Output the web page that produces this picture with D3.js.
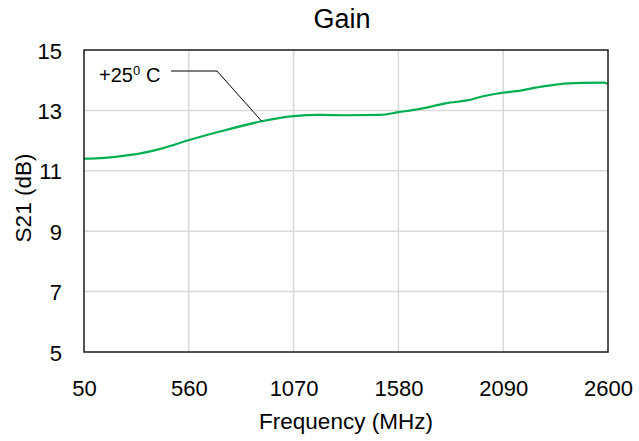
<!DOCTYPE html>
<html>
<head>
<meta charset="utf-8">
<script src="https://cdn.jsdelivr.net/npm/d3@7"></script>
<style>
    html, body { margin: 0; padding: 0; background: #fff; overflow: hidden; }
    svg { display: block; }
</style>
</head>
<body>
<svg id="chart"></svg>
<script>
// values
const freqMHz = [50, 150, 258, 356, 440, 558, 712, 915, 1004, 1069, 1199, 1329, 1491, 1580, 1686, 1815, 1913, 1993, 2091, 2156, 2253, 2366, 2480, 2577, 2600];
const gainDb = [11.40, 11.43, 11.51, 11.62, 11.76, 12.01, 12.30, 12.64, 12.75, 12.81, 12.85, 12.84, 12.85, 12.94, 13.05, 13.24, 13.33, 13.47, 13.59, 13.64, 13.76, 13.87, 13.91, 13.92, 13.88];
const xTicks = [50, 560, 1070, 1580, 2090, 2600];
const yTicks = [5, 7, 9, 11, 13, 15];
const seriesLabel = "+25";

const chartSettings = {
    width: 639,
    height: 441,
    margin: { top: 50, right: 31, bottom: 89, left: 84 },
    font: "Liberation Sans, Arial, sans-serif",
    lineColor: "#00b050",
    gridColor: "#d9d9d9",
};

const { width, height, margin, font } = chartSettings;
const innerWidth = width - margin.left - margin.right;
const innerHeight = height - margin.top - margin.bottom;

const svg = d3.select("#chart")
    .attr("width", width)
    .attr("height", height)
    .attr("font-family", font);

const x = d3.scaleLinear().domain([50, 2600]).range([0, innerWidth]);
const y = d3.scaleLinear().domain([5, 15]).range([innerHeight, 0]);

const g = svg.append("g")
    .attr("transform", `translate(${margin.left},${margin.top})`);

// gridlines
g.append("g")
    .selectAll("line")
    .data(xTicks.slice(1, -1))
    .join("line")
    .attr("x1", d => x(d)).attr("x2", d => x(d))
    .attr("y1", 0).attr("y2", innerHeight)
    .attr("stroke", chartSettings.gridColor)
    .attr("stroke-width", 1.5);

g.append("g")
    .selectAll("line")
    .data(yTicks.slice(1, -1))
    .join("line")
    .attr("x1", 0).attr("x2", innerWidth)
    .attr("y1", d => y(d)).attr("y2", d => y(d))
    .attr("stroke", chartSettings.gridColor)
    .attr("stroke-width", 1.5);

// axes: labels only, the frame is drawn separately
const xAxis = g.append("g")
    .attr("transform", `translate(0,${innerHeight})`)
    .call(d3.axisBottom(x).tickValues(xTicks).tickSize(0).tickFormat(d3.format("d")));
xAxis.select(".domain").remove();
xAxis.selectAll("text")
    .attr("y", 44)
    .attr("dy", null)
    .attr("text-anchor", "middle")
    .attr("font-family", font)
    .attr("font-size", 22)
    .attr("fill", "#000");

const yAxis = g.append("g")
    .call(d3.axisLeft(y).tickValues(yTicks).tickSize(0).tickFormat(d3.format("d")));
yAxis.select(".domain").remove();
yAxis.selectAll("text")
    .attr("x", -22)
    .attr("y", 8)
    .attr("dy", null)
    .attr("text-anchor", "end")
    .attr("font-family", font)
    .attr("font-size", 22)
    .attr("fill", "#000");

// data line
const line = d3.line()
    .x((d, i) => x(freqMHz[i]))
    .y(d => y(d))
    .curve(d3.curveMonotoneX);

g.append("path")
    .datum(gainDb)
    .attr("fill", "none")
    .attr("stroke", chartSettings.lineColor)
    .attr("stroke-width", 2.2)
    .attr("d", line);

// plot frame
g.append("rect")
    .attr("width", innerWidth)
    .attr("height", innerHeight)
    .attr("fill", "none")
    .attr("stroke", "#1a1a1a")
    .attr("stroke-width", 1.5);

// series annotation with leader line
const anchorF = 915;
const anchorY = y(gainDb[freqMHz.indexOf(anchorF)]);
g.append("polyline")
    .attr("points", `87,21 133,21 ${x(anchorF)},${anchorY}`)
    .attr("fill", "none")
    .attr("stroke", "#000")
    .attr("stroke-width", 1);

g.append("text")
    .attr("x", 15)
    .attr("y", 32)
    .attr("font-size", 20)
    .text(seriesLabel);
g.append("text")
    .attr("x", 49)
    .attr("y", 25)
    .attr("font-size", 13)
    .text("0");
g.append("text")
    .attr("x", 62)
    .attr("y", 32)
    .attr("font-size", 20)
    .text("C");

// titles
svg.append("text")
    .attr("x", 342)
    .attr("y", 28)
    .attr("font-size", 27)
    .attr("text-anchor", "middle")
    .text("Gain");

svg.append("text")
    .attr("x", margin.left + innerWidth / 2)
    .attr("y", 429)
    .attr("font-size", 22.5)
    .attr("text-anchor", "middle")
    .text("Frequency (MHz)");

svg.append("text")
    .attr("transform", "translate(31,198) rotate(-90)")
    .attr("font-size", 22.5)
    .attr("text-anchor", "middle")
    .text("S21 (dB)");
</script>
</body>
</html>
